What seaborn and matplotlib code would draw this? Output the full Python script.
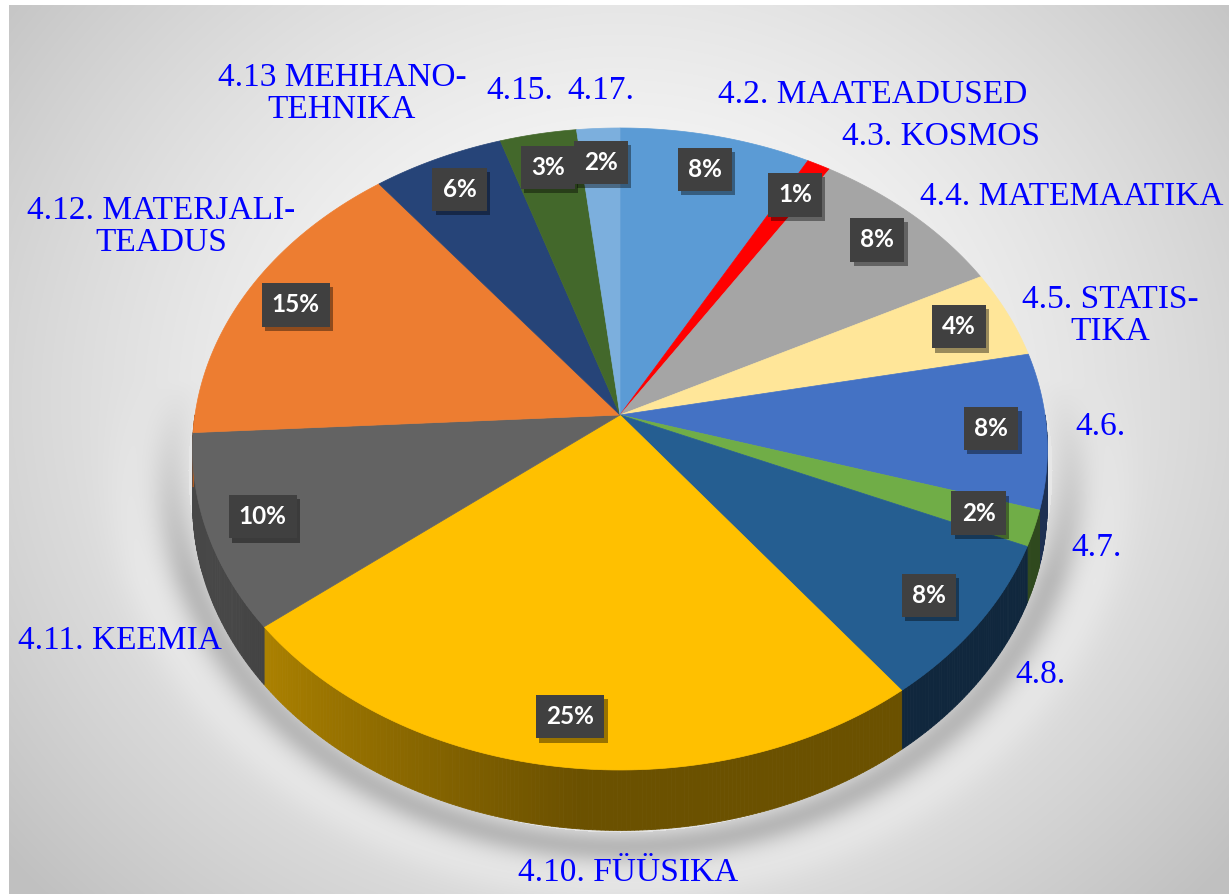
import numpy as np
import matplotlib
matplotlib.use('Agg')
import matplotlib.pyplot as plt
import matplotlib.patheffects as pe
import matplotlib.colors as mcolors
from matplotlib.collections import PolyCollection
from matplotlib.patches import Polygon
import seaborn as sns

# data: shares, clockwise from 12 o'clock
categories = ['4.2. MAATEADUSED', '4.3. KOSMOS', '4.4. MATEMAATIKA', '4.5. STATIS-\nTIKA',
              '4.6.', '4.7.', '4.8.', '4.10. FÜÜSIKA', '4.11. KEEMIA',
              '4.12. MATERJALI-\nTEADUS', '4.13 MEHHANO-\nTEHNIKA', '4.15.', '4.17.']
shares = [8.0, 1.0, 8.4, 4.4, 7.8, 1.8, 8.1, 24.6, 9.8, 15.3, 5.5, 3.2, 1.8]
slice_colors = ['#5B9BD5', '#FF0000', '#A5A5A5', '#FFE699', '#4472C4', '#70AD47', '#255E91',
                '#FFC000', '#636363', '#ED7D31', '#264478', '#43682B', '#7CAFDD']

# layout of the category labels (pixels, ha)
label_layout = [(718, 95, 'left'), (842, 137, 'left'), (920, 197, 'left'), (1110, 316, 'center'),
                (1100, 427, 'center'), (1097, 548, 'center'), (1041, 675, 'center'),
                (628, 873, 'center'), (120, 641, 'center'), (161, 227, 'center'),
                (342, 94, 'center'), (520, 91, 'center'), (601, 91, 'center')]

W, H = 1230, 894
X0, Y0 = 620, 415      # pie centre on screen
AX, AY = 425, 317.4    # screen radii
PERSP = 0.1059         # perspective factor
DEPTH = 54             # height of the pie wall


def project(theta, r=1.0, z=0.0):
    t = np.radians(theta)
    x, y = r * np.sin(t), r * np.cos(t)
    w = 1 + PERSP * y
    return X0 + AX * x / w, Y0 - AY * y / w + z / w


def wall_shade(t):
    return 0.42 + 0.30 * np.clip((t - 185) / 55, 0, 1)


sns.set_style('white')
fig = plt.figure(figsize=(W / 100, H / 100), dpi=100)
ax = fig.add_axes([0, 0, 1, 1])
ax.set_xlim(0, W)
ax.set_ylim(H, 0)
ax.axis('off')

# background panel with radial gradient and soft shadow under the pie
yy, xx = np.mgrid[0:H, 0:W].astype(float)
rr = np.hypot(xx - 620, (yy - 400) / 0.9)
g = 254 - 62 * np.clip(rr / 800, 0, 1) ** 1.6
q = np.hypot((xx - 620) / 432, (yy - 470) / 362) - 1
wy = np.clip((yy - 380) / 200, 0, 1)
g = g - 42 * np.exp(-((q - 0.04) / 0.045) ** 2) * wy * (q > 0)
g = g + 8 * np.exp(-((q - 0.14) / 0.06) ** 2) * wy
g[(xx < 9) | (yy < 5) | (xx > 1228)] = 255
img = np.dstack([g, g, g]).clip(0, 255) / 255
ax.imshow(img, extent=(0, W, H, 0), zorder=0, interpolation='bilinear', aspect='auto')

total = sum(shares)
bounds = np.concatenate([[0], np.cumsum(shares)]) / total * 360

# walls (front half only)
quads, qcols = [], []
for i, col in enumerate(slice_colors):
    a0, a1 = max(bounds[i], 90), min(bounds[i + 1], 270)
    if a1 <= a0:
        continue
    steps = np.linspace(a0, a1, max(2, int((a1 - a0) / 0.5) + 1))
    base = np.array(mcolors.to_rgb(col))
    for s0, s1 in zip(steps[:-1], steps[1:]):
        p0, p1 = project(s0), project(s1)
        b0, b1 = project(s0, z=DEPTH), project(s1, z=DEPTH)
        quads.append([p0, p1, b1, b0])
        qcols.append(base * wall_shade((s0 + s1) / 2))
ax.add_collection(PolyCollection(quads, facecolors=qcols, edgecolors=qcols, linewidths=0.6, zorder=2))

# top faces
for i, col in enumerate(slice_colors):
    arc = np.linspace(bounds[i], bounds[i + 1], 80)
    px, py = project(arc)
    pts = np.column_stack([np.r_[X0, px], np.r_[Y0, py]])
    ax.add_patch(Polygon(pts, closed=True, facecolor=col, edgecolor=col, lw=0.5, zorder=3))

# percentage labels
for i in range(len(shares)):
    mid = (bounds[i] + bounds[i + 1]) / 2
    lx, ly = project(mid, r=0.87)
    t = ax.text(lx, ly, '{:.0f}%'.format(shares[i] / total * 100), color='white',
                fontsize=17.5, fontweight='bold', family=['Lato', 'DejaVu Sans'],
                ha='center', va='center', zorder=5,
                bbox=dict(boxstyle='square,pad=0.42', facecolor='#404040',
                          edgecolor='none', linewidth=0))
    t.get_bbox_patch().set_path_effects([
        pe.SimplePatchShadow(offset=(2.5, -3), shadow_rgbFace='black', alpha=0.4),
        pe.Normal()])

# category labels
for name, (lx, ly, ha) in zip(categories, label_layout):
    ax.text(lx, ly, name, color='#0000FF', fontsize=24, family=['Liberation Serif', 'DejaVu Serif'],
            ha=ha, va='center', multialignment='center', linespacing=1.05, zorder=6)

fig.savefig('out.png', dpi=100)
